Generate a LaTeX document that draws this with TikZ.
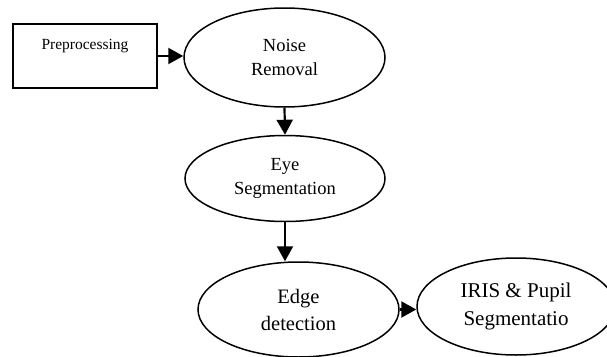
\documentclass[tikz,border=0pt]{standalone}
\usepackage{fontspec}
\setmainfont{Liberation Serif}
\usetikzlibrary{shapes.geometric,arrows.meta}
\begin{document}
\begin{tikzpicture}[x=1pt,y=-1pt,
  stage/.style={draw,ellipse,line width=1.5pt,inner sep=0pt,align=center},
  box/.style={draw,rectangle,line width=1.5pt,inner xsep=0pt,inner ysep=0pt,
    minimum width=144pt,text height=25pt,text depth=39pt,
    font=\fontsize{15.5}{18}\selectfont},
  flow/.style={line width=2.2pt,-{Triangle[length=15pt,width=16pt]}}
]
\useasboundingbox (0,0) rectangle (607,356);
\node[box] (pre) at (85,56) {Preprocessing};
\node[stage,minimum width=201pt,minimum height=99pt,font=\fontsize{18.5}{24}\selectfont] (noise) at (284.5,57.5) {Noise\\Removal};
\node[stage,minimum width=200pt,minimum height=86pt,font=\fontsize{18.5}{24}\selectfont] (eye) at (285,178.5) {Eye\\Segmentation};
\node[stage,minimum width=201pt,minimum height=95pt,font=\fontsize{20.5}{27}\selectfont] (edge) at (298.5,309.5) {Edge\\detection};
\node[stage,minimum width=198pt,minimum height=97pt,font=\fontsize{21}{28}\selectfont] (iris) at (516,306.5) {IRIS \& Pupil\\Segmentatio};
\draw[flow] (pre.east) -- (pre.east -| noise.west);
\draw[flow] (noise.south) -- (eye.north);
\draw[flow] (eye.south) -- (eye.south |- edge.north);
\draw[flow] (edge.east) -- (edge.east -| iris.west);
\end{tikzpicture}
\end{document}
